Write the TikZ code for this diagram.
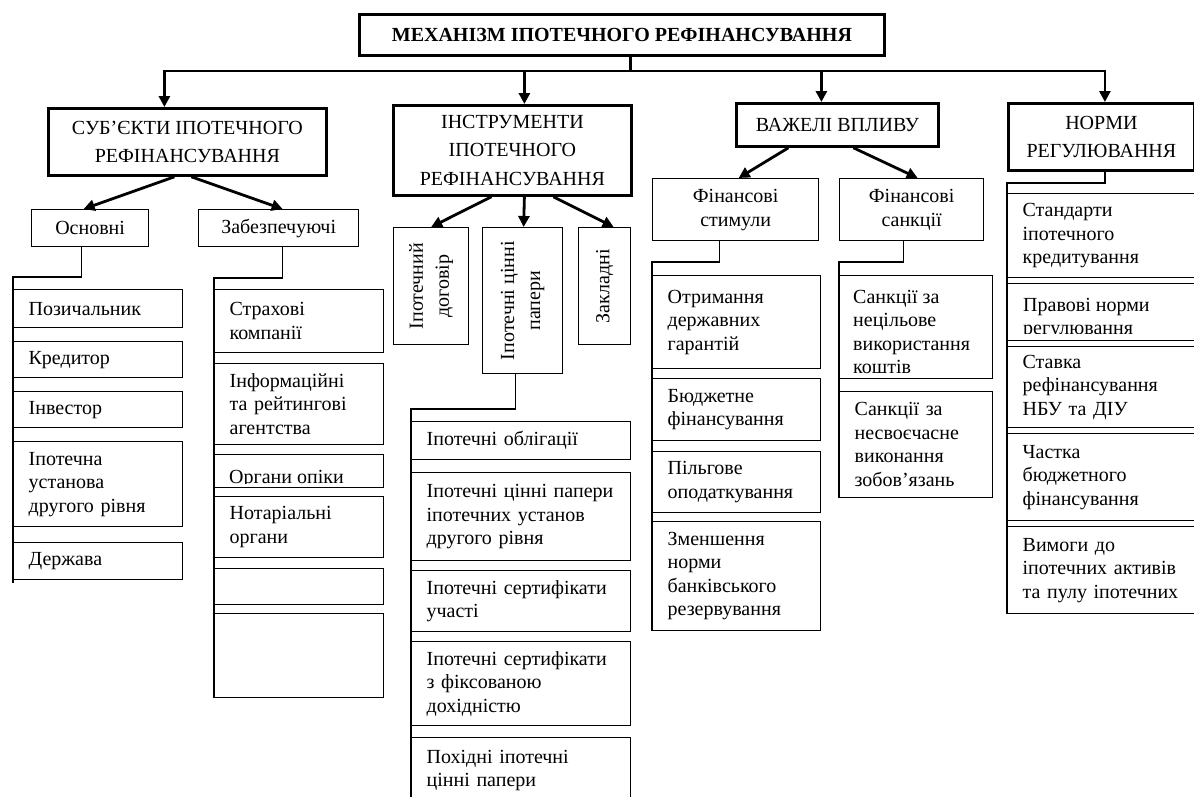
\documentclass[tikz,border=0pt]{standalone}
\usepackage{fontspec}
\setmainfont{Liberation Serif}
\usetikzlibrary{arrows.meta}
\begin{document}
\begin{tikzpicture}[x=1pt,y=-1pt,
  big/.style={draw, line width=2.8pt, anchor=north west, align=center, inner sep=0pt, font=\fontsize{20}{28.5}\selectfont},
  mid/.style={draw, line width=1.3pt, anchor=north west, align=center, inner sep=0pt, font=\fontsize{20}{24}\selectfont},
  leaf/.style={draw, line width=1.3pt, anchor=north west, align=left, inner xsep=15pt, inner ysep=0pt, font=\fontsize{20}{23.5}\selectfont},
  box/.style={draw, line width=1.3pt, anchor=north west, inner sep=0pt},
  ltext/.style={anchor=base west, inner sep=0pt, font=\fontsize{20}{23.5}\selectfont},
  rtext/.style={rotate=90, align=center, inner sep=0pt, font=\fontsize{20}{26}\selectfont},
  conn/.style={line width=1.3pt},
  bigline/.style={line width=2.8pt},
  arr/.style={line width=2.8pt, -{Triangle[length=11pt,width=11pt]}}]
\clip (0,0) rectangle (1194,796);
\fill[white] (0,0) rectangle (1194,796);

% top level
\node[big, font=\fontsize{20}{24}\selectfont\bfseries, minimum width=525pt, minimum height=41pt] (title) at (358,13) {МЕХАНІЗМ ІПОТЕЧНОГО РЕФІНАНСУВАННЯ};
\node[big, minimum width=278pt, minimum height=67pt] (sub) at (47,107) {СУБ’ЄКТИ ІПОТЕЧНОГО\\РЕФІНАНСУВАННЯ};
\node[big, minimum width=238pt, minimum height=90pt] (instr) at (392,104) {ІНСТРУМЕНТИ\\ІПОТЕЧНОГО\\РЕФІНАНСУВАННЯ};
\node[big, minimum width=202pt, minimum height=43pt] (vaz) at (735,102) {ВАЖЕЛІ ВПЛИВУ};
\node[big, minimum width=186pt, minimum height=67pt] (norm) at (1007,102) {НОРМИ\\РЕГУЛЮВАННЯ};

% main bus
\coordinate (busT) at (629,71);
\draw[bigline] ([xshift=8.5pt]title.south) -- ([xshift=8.5pt]title.south |- busT);
\draw[arr] (busT) -| ([xshift=-23pt]sub.north);
\draw[arr] (busT) -| ([xshift=3.5pt]norm.north);
\draw[arr] ([xshift=12pt]instr.north |- busT) -- ([xshift=12pt]instr.north);
\draw[arr] ([xshift=-16pt]vaz.north |- busT) -- ([xshift=-16pt]vaz.north);

% second level
\node[mid, minimum width=117pt, minimum height=37pt] (osn) at (31,209) {Основні};
\node[mid, minimum width=160pt, minimum height=37pt] (zab) at (198,209) {Забезпечуючі};
\draw[arr] ([xshift=-13pt]sub.south) -- ([xshift=-6.5pt]osn.north);
\draw[arr] ([xshift=4pt]sub.south) -- ([xshift=4pt]zab.north);

\node[box, minimum width=75pt, minimum height=117pt] (dog) at (393,227) {};
\node[rtext] (dogt) at (dog.center) {Іпотечний\\договір};
\node[box, minimum width=80pt, minimum height=146pt] (cp) at (482,227) {};
\node[rtext] (cpt) at (cp.center) {Іпотечні цінні\\папери};
\node[box, minimum width=52pt, minimum height=117pt] (zak) at (578,227) {};
\node[rtext] (zakt) at (zak.center) {Закладні};
\draw[arr] ([xshift=-21pt]instr.south) -- (dog.north);
\draw[arr] ([xshift=12pt]instr.south) -- ([xshift=1pt]cp.north);
\draw[arr] ([xshift=41pt]instr.south) -- ([xshift=9pt]zak.north);

\node[mid, minimum width=166pt, minimum height=62pt] (stim) at (652,178) {Фінансові\\стимули};
\node[mid, minimum width=144pt, minimum height=62pt] (sank) at (839,178) {Фінансові\\санкції};
\draw[arr] ([xshift=-49pt]vaz.south) -- ([xshift=3pt]stim.north);
\draw[arr] ([xshift=16pt]vaz.south) -- ([xshift=6pt]sank.north);

% column 1
\node[leaf, text width=139pt, minimum height=38pt] (poz) at (13,289) {Позичальник};
\node[leaf, text width=139pt, minimum height=36pt] (kred) at (13,341) {Кредитор};
\node[leaf, text width=139pt, minimum height=36pt] (inv) at (13,391) {Інвестор};
\node[leaf, text width=139pt, minimum height=85pt] (ust) at (13,441) {Іпотечна\\установа\\другого рівня};
\node[leaf, text width=139pt, minimum height=37pt] (derzh) at (13,542) {Держава};
\coordinate (b1) at (13,277);
\draw[conn] ([xshift=-8.5pt]osn.south) |- (b1) -- ([yshift=-3pt]derzh.south west);

% column 2
\node[leaf, text width=139pt, minimum height=63pt] (strah) at (214,289) {Страхові\\компанії};
\node[leaf, text width=139pt, minimum height=81pt] (inf) at (214,363) {Інформаційні\\та рейтингові\\агентства};
\node[box, minimum width=169pt, minimum height=33pt] (opik) at (214,454) {};
\begin{scope}
\clip (opik.north west) rectangle ([yshift=4.5pt]opik.south east);
\node[ltext] (opikt) at (229,483.5) {Органи опіки};
\end{scope}
\node[leaf, text width=139pt, minimum height=61pt] (notar) at (214,496) {Нотаріальні\\органи};
\node[box, minimum width=169pt, minimum height=36pt] (emp1) at (214,568) {};
\node[box, minimum width=169pt, minimum height=84pt] (emp2) at (214,613) {};
\coordinate (b2) at (214,278);
\draw[conn] ([xshift=4pt]zab.south) |- (b2) -- (emp2.south west);

% column 3
\node[leaf, text width=189pt, minimum height=38pt] (obl) at (411,421) {Іпотечні облігації};
\node[leaf, text width=189pt, minimum height=88pt] (icp) at (411,472) {Іпотечні цінні папери\\іпотечних установ\\другого рівня};
\node[leaf, text width=189pt, minimum height=61pt] (su) at (411,570) {Іпотечні сертифікати\\участі};
\node[leaf, text width=189pt, minimum height=84pt] (sf) at (411,641) {Іпотечні сертифікати\\з фіксованою\\дохідністю};
\node[leaf, text width=189pt, minimum height=66pt] (poh) at (411,737) {Похідні іпотечні\\цінні папери};
\coordinate (b3) at (411,409);
\draw[conn] ([xshift=-7pt]cp.south) |- (b3) -- (poh.south west);

% column 4
\node[leaf, text width=138pt, minimum height=93pt] (otr) at (652,275) {Отримання\\державних\\гарантій};
\node[leaf, text width=138pt, minimum height=62pt] (bud) at (652,378) {Бюджетне\\фінансування};
\node[leaf, text width=138pt, minimum height=61pt] (pil) at (652,451) {Пільгове\\оподаткування};
\node[leaf, text width=138pt, minimum height=109pt] (zm) at (652,521) {Зменшення\\норми\\банківського\\резервування};
\coordinate (b4) at (652,262);
\draw[conn] ([xshift=-16pt]stim.south) |- (b4) -- (zm.south west);

% column 5
\node[box, minimum width=153pt, minimum height=103pt] (sn1) at (839,275) {};
\begin{scope}
\clip (sn1.north west) rectangle ([yshift=6pt]sn1.south east);
\node[ltext] (sn1a) at (853,303) {Санкції за};
\node[ltext] (sn1b) at (853,326.5) {нецільове};
\node[ltext] (sn1c) at (853,350) {використання};
\node[ltext] (sn1d) at (853,373.5) {коштів};
\end{scope}
\node[leaf, text width=123pt, minimum height=106pt] (sn2) at (839,391) {Санкції за\\несвоєчасне\\виконання\\зобов’язань};
\coordinate (b5) at (839,262);
\draw[conn] ([xshift=-8pt]sank.south) |- (b5) -- (sn2.south west);

% column 6
\node[leaf, text width=180pt, minimum height=84pt] (st) at (1007,193) {Стандарти\\іпотечного\\кредитування};
\node[box, minimum width=210pt, minimum height=57pt] (pr) at (1007,283) {};
\begin{scope}
\clip (pr.north west) rectangle ([yshift=8pt]pr.south east);
\node[ltext] (prA) at (1023,311) {Правові норми};
\node[ltext] (prB) at (1023,334.5) {регулювання};
\end{scope}
\node[leaf, text width=180pt, minimum height=81pt] (stv) at (1007,346) {Ставка\\рефінансування\\НБУ та ДІУ};
\node[leaf, text width=180pt, minimum height=87pt] (ch) at (1007,433) {Частка\\бюджетного\\фінансування};
\node[leaf, text width=180pt, minimum height=87pt] (vym) at (1007,526) {Вимоги до\\іпотечних активів\\та пулу іпотечних};
\coordinate (b6) at (1007,183);
\draw[conn] ([xshift=3.5pt]norm.south) |- (b6) -- (vym.south west);
\end{tikzpicture}
\end{document}
